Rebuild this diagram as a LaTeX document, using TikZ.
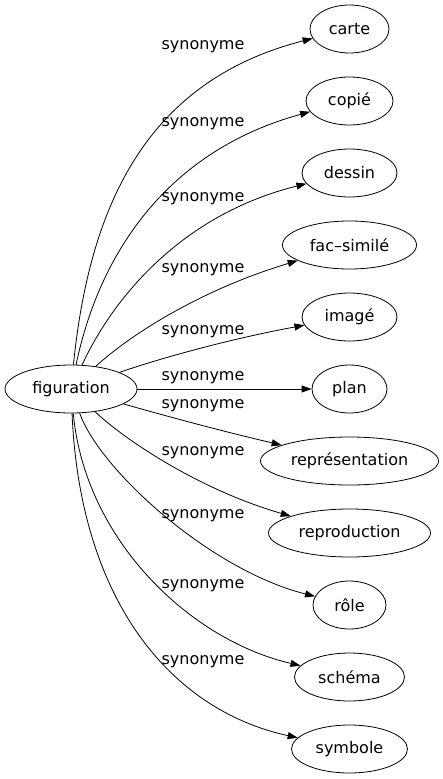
\documentclass[tikz,border=0pt]{standalone}
\usepackage{fontspec}
\setmainfont{DejaVu Sans}
\usepackage{tikz}
\usetikzlibrary{shapes.geometric,arrows.meta}
\tikzset{
  word/.style={draw=black, ellipse, line width=0.8pt, minimum height=48pt, inner sep=0pt, font=\fontsize{16pt}{18pt}\selectfont},
  rel/.style={-{Triangle[length=10pt,width=7pt]}, draw=black, line width=0.8pt},
  edgelabel/.style={black, font=\fontsize{16pt}{18pt}\selectfont}
}

\begin{document}
\begin{tikzpicture}[x=1pt, y=-1pt]
  \useasboundingbox (0,0) rectangle (443,779);
  \node[word, minimum width=132pt] (fig) at (71,389) {figuration};
  \node[word, minimum width=79pt] (carte) at (349.5,29) {carte};
  \node[word, minimum width=87pt] (copie) at (349.5,101) {copié};
  \node[word, minimum width=95pt] (dessin) at (349.5,173) {dessin};
  \node[word, minimum width=134pt] (facsim) at (349.5,245) {fac–similé};
  \node[word, minimum width=95pt] (image) at (349.5,317) {imagé};
  \node[word, minimum width=75pt] (plan) at (349.5,389) {plan};
  \node[word, minimum width=178pt] (repres) at (349.5,461) {représentation};
  \node[word, minimum width=162pt] (reprod) at (349.5,533) {reproduction};
  \node[word, minimum width=73pt] (role) at (349.5,605) {rôle};
  \node[word, minimum width=110pt] (schema) at (349.5,677) {schéma};
  \node[word, minimum width=116pt] (symb) at (349.5,749) {symbole};
  % edges, graphviz-like splines
  \draw[rel] (fig) .. controls (90,200) and (150,80) .. (carte);
  \draw[rel] (fig) .. controls (100,250) and (170,150) .. (copie);
  \draw[rel] (fig) .. controls (112,300) and (180,215) .. (dessin);
  \draw[rel] (fig) .. controls (130,335) and (200,290) .. (facsim);
  \draw[rel] (fig) .. controls (170,355) and (240,337) .. (image);
  \draw[rel] (fig) -- (plan);
  \draw[rel] (fig) .. controls (180,420) and (230,433) .. (repres);
  \draw[rel] (fig) .. controls (125,440) and (200,490) .. (reprod);
  \draw[rel] (fig) .. controls (100,470) and (210,570) .. (role);
  \draw[rel] (fig) .. controls (85,540) and (190,640) .. (schema);
  \draw[rel] (fig) .. controls (80,600) and (170,710) .. (symb);
  \node[edgelabel] (l1) at (203,47) {synonyme};
  \node[edgelabel] (l2) at (203,124) {synonyme};
  \node[edgelabel] (l3) at (203,199) {synonyme};
  \node[edgelabel] (l4) at (203,270) {synonyme};
  \node[edgelabel] (l5) at (203,332) {synonyme};
  \node[edgelabel] (l6) at (203,378) {synonyme};
  \node[edgelabel] (l7) at (203,406) {synonyme};
  \node[edgelabel] (l8) at (203,453) {synonyme};
  \node[edgelabel] (l9) at (203,516) {synonyme};
  \node[edgelabel] (l10) at (203,586) {synonyme};
  \node[edgelabel] (l11) at (203,662) {synonyme};
\end{tikzpicture}
\end{document}
